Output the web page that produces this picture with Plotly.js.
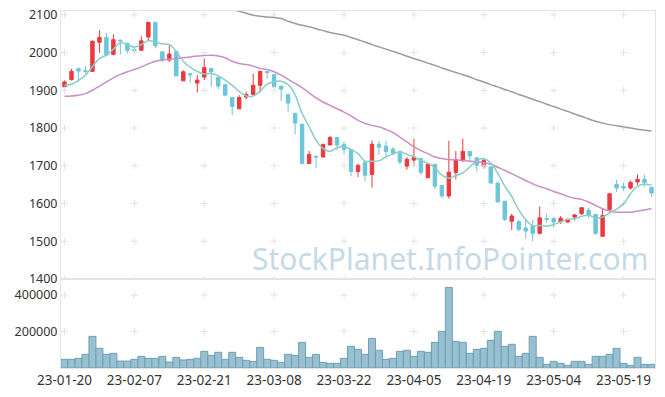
<!DOCTYPE html>
<html>
<head>
<meta charset="utf-8">
<script src="https://cdn.plot.ly/plotly-3.0.1.min.js"></script>
<style>html,body{margin:0;padding:0;background:#fff;}#chart{width:665px;height:397px;}</style>
</head>
<body>
<div id="chart"></div>
<script>
const dates = [
"23-01-20","23-01-25","23-01-26","23-01-27","23-01-30","23-01-31","23-02-01","23-02-02","23-02-03","23-02-06",
"23-02-07","23-02-08","23-02-09","23-02-10","23-02-13","23-02-14","23-02-15","23-02-16","23-02-17","23-02-20",
"23-02-21","23-02-22","23-02-23","23-02-24","23-02-27","23-02-28","23-03-02","23-03-03","23-03-06","23-03-07",
"23-03-08","23-03-09","23-03-10","23-03-13","23-03-14","23-03-15","23-03-16","23-03-17","23-03-20","23-03-21",
"23-03-22","23-03-23","23-03-24","23-03-27","23-03-28","23-03-29","23-03-30","23-03-31","23-04-03","23-04-04",
"23-04-05","23-04-06","23-04-07","23-04-10","23-04-11","23-04-12","23-04-13","23-04-14","23-04-17","23-04-18",
"23-04-19","23-04-20","23-04-21","23-04-24","23-04-25","23-04-26","23-04-27","23-04-28","23-05-02","23-05-03",
"23-05-04","23-05-08","23-05-09","23-05-10","23-05-11","23-05-12","23-05-15","23-05-16","23-05-17","23-05-18",
"23-05-19","23-05-22","23-05-23","23-05-24","23-05-25"];

const openP = [1909,1928,1957,1952,1950,2027,2040,1995,2033,2024,
2008,2006,2041,2080,2002,1980,2003,1925,1944,1919,
1935,1958,1934,1915,1881,1851,1882,1889,1913,1950,
1942,1911,1889,1839,1810,1706,1725,1723,1755,1775,
1757,1743,1685,1709,1677,1757,1752,1744,1734,1699,
1715,1719,1668,1704,1648,1620,1682,1714,1738,1721,
1699,1697,1654,1606,1553,1552,1535,1539,1521,1560,
1560,1552,1551,1564,1573,1582,1571,1513,1584,1651,
1645,1641,1657,1664,1643];
const highP = [1926,1957,1960,1964,2032,2059,2052,2048,2033,2026,
2014,2043,2080,2080,2002,2019,2003,1953,1944,1940,
1984,1958,1937,1915,1881,1887,1896,1944,1950,1950,
1942,1911,1889,1839,1810,1739,1725,1757,1779,1775,
1764,1743,1706,1709,1767,1766,1766,1750,1741,1723,
1772,1719,1704,1704,1648,1766,1739,1772,1738,1721,
1719,1697,1654,1606,1573,1557,1558,1557,1592,1573,
1564,1567,1560,1570,1590,1589,1571,1586,1626,1663,
1655,1661,1677,1676,1643];
const lowP = [1904,1926,1922,1944,1950,1999,1990,1993,1995,1997,
1997,2004,2033,2011,1975,1975,1938,1925,1920,1894,
1927,1909,1903,1884,1834,1850,1876,1887,1894,1931,
1909,1872,1842,1783,1706,1706,1695,1723,1755,1741,
1730,1672,1670,1659,1642,1728,1725,1728,1704,1690,
1699,1675,1668,1637,1615,1613,1664,1710,1710,1685,
1692,1654,1604,1553,1530,1526,1507,1500,1518,1549,
1536,1546,1549,1555,1570,1561,1517,1513,1573,1630,
1633,1637,1648,1645,1617];
const closeP = [1922,1950,1951,1950,2030,2040,1993,2034,2031,2006,
2005,2031,2080,2018,1981,1996,1938,1949,1941,1927,
1960,1949,1911,1887,1857,1881,1889,1913,1950,1947,
1909,1903,1866,1813,1706,1730,1723,1757,1775,1755,
1743,1685,1701,1675,1757,1749,1738,1734,1710,1717,
1723,1683,1704,1646,1620,1683,1717,1738,1726,1701,
1714,1654,1604,1558,1567,1531,1527,1521,1562,1558,
1551,1561,1558,1570,1589,1570,1521,1568,1626,1641,
1641,1656,1664,1655,1628];

const volume = [47500,47500,53000,75000,173600,108000,75000,80500,38000,38000,
47500,64000,53000,53000,64000,33000,58400,44000,47500,53000,
91300,69400,86000,47500,86000,58400,42000,36500,113000,47500,
42000,31000,75000,69400,140600,58400,75000,31000,25600,25600,
53000,119000,102000,75000,162500,97000,47500,53000,91300,97000,
64000,91300,86000,140600,201000,442000,146000,140600,80500,102000,
108000,151600,201000,119000,130000,64000,80500,173600,58400,20000,
36500,25600,14600,36500,36500,20000,64000,64000,75000,108000,
25600,14600,58400,20000,20000];

const ma5 = [1913,1916,1926,1940,1963,1984,1993,2009,2026,2021,
2014,2021,2031,2028,2023,2021,2003,1977,1961,1950,
1943,1945,1938,1927,1913,1897,1885,1885,1898,1916,
1922,1924,1915,1888,1839,1804,1768,1746,1738,1748,
1751,1743,1732,1712,1712,1713,1724,1731,1738,1730,
1724,1713,1707,1695,1675,1667,1674,1681,1697,1713,
1719,1707,1680,1646,1619,1583,1557,1541,1542,1540,
1544,1551,1558,1560,1566,1569,1562,1564,1575,1585,
1599,1626,1646,1651,1649];

const ma20 = [1884,1885,1887,1891,1900,1911,1922,1933,1942,1949,
1955,1962,1970,1977,1980,1982,1984,1986,1988,1991,
1992,1993,1991,1986,1977,1971,1968,1964,1958,1955,
1949,1940,1929,1918,1907,1893,1880,1869,1860,1851,
1842,1832,1820,1812,1807,1803,1796,1788,1776,1763,
1750,1740,1732,1723,1719,1716,1716,1714,1712,1711,
1708,1704,1696,1688,1679,1670,1661,1652,1645,1639,
1632,1626,1619,1614,1611,1604,1595,1586,1580,1577,
1577,1577,1580,1583,1587];

const ma60 = [null,null,null,null,null,null,null,null,null,null,
null,null,null,null,null,null,null,null,null,null,
null,null,2124,2119,2114,2109,2104,2099,2096,2094,
2093,2090,2083,2077,2072,2068,2063,2058,2053,2049,
2046,2040,2034,2028,2021,2015,2009,2003,1997,1990,
1984,1978,1972,1966,1959,1953,1947,1941,1935,1928,
1922,1915,1909,1902,1896,1889,1883,1876,1870,1863,
1857,1850,1844,1837,1831,1824,1818,1813,1809,1806,
1803,1800,1797,1794,1792];

const priceTicks = [1400,1500,1600,1700,1800,1900,2000,2100];
const volumeTicks = [200000,400000];
const xTickIdx = [0,10,20,30,40,50,60,70,80];
const xTicks = xTickIdx.map(i => dates[i]);

const UP = '#ea3a40', DOWN = '#6cc5d9';

// grid "+" marks at tick intersections
const gx = [], gy = [], vx = [], vy = [];
xTicks.forEach(d => { priceTicks.forEach(p => { gx.push(d); gy.push(p); });
                      volumeTicks.forEach(v => { vx.push(d); vy.push(v); }); });

const cross = {symbol:'cross-thin', size:5, line:{color:'#e2e2e2', width:1}};
const traces = [
  {type:'scatter', mode:'markers', x:gx, y:gy, xaxis:'x', yaxis:'y', marker:cross, hoverinfo:'skip', showlegend:false},
  {type:'scatter', mode:'markers', x:vx, y:vy, xaxis:'x2', yaxis:'y2', marker:cross, hoverinfo:'skip', showlegend:false},
  {type:'scatter', mode:'lines', x:dates, y:ma60, xaxis:'x', yaxis:'y',
   line:{color:'#9b9b9b', width:1.5, shape:'spline'}, connectgaps:false, showlegend:false},
  {type:'scatter', mode:'lines', x:dates, y:ma20, xaxis:'x', yaxis:'y',
   line:{color:'#cc8cc6', width:1.5, shape:'spline'}, showlegend:false},
  {type:'scatter', mode:'lines', x:dates, y:ma5, xaxis:'x', yaxis:'y',
   line:{color:'#88cec4', width:1.5, shape:'spline'}, showlegend:false},
  {type:'candlestick', x:dates, open:openP, high:highP, low:lowP, close:closeP,
   xaxis:'x', yaxis:'y', whiskerwidth:0,
   increasing:{line:{color:UP, width:1}, fillcolor:UP},
   decreasing:{line:{color:DOWN, width:1}, fillcolor:DOWN}, showlegend:false},
  {type:'bar', x:dates, y:volume, xaxis:'x2', yaxis:'y2',
   marker:{color:'#98c0d0', line:{color:'#6e9fb3', width:1}}, showlegend:false}
];

const fam = 'Noto Sans, DejaVu Sans, sans-serif';
const yfont = {family:fam, size:12.5, color:'#333'};
const layout = {
  width:665, height:397,
  margin:{l:61, r:10, t:11, b:29},
  paper_bgcolor:'#fff', plot_bgcolor:'#fff',
  font: {family:fam, size:13, color:'#333'},
  showlegend:false,
  hovermode:false,
  bargap:0,
  xaxis:{type:'category', categoryorder:'array', categoryarray:dates, range:[-0.5, dates.length-0.5],
         anchor:'y', showticklabels:false, showgrid:false, zeroline:false,
         showline:true, mirror:true, linecolor:'#e4e4e4', linewidth:1, ticks:'',
         rangeslider:{visible:false}},
  xaxis2:{type:'category', categoryorder:'array', categoryarray:dates, range:[-0.5, dates.length-0.5],
          anchor:'y2', matches:'x', tickmode:'array', tickvals:xTicks, ticktext:xTicks,
          showgrid:false, zeroline:false, showline:true, mirror:true, linecolor:'#e4e4e4', linewidth:1,
          ticks:'', tickfont:{family:fam, size:13.5, color:'#333'}, tickangle:0},
  yaxis:{domain:[0.2493,1], range:[1400,2110], tickmode:'array', tickvals:priceTicks,
         showgrid:false, zeroline:false, showline:true, mirror:true, linecolor:'#e4e4e4', linewidth:1,
         ticks:'', tickfont:yfont, tickformat:'d'},
  yaxis2:{domain:[0,0.2493], range:[0,488000], tickmode:'array', tickvals:volumeTicks,
          showgrid:false, zeroline:false, showline:true, mirror:true, linecolor:'#e4e4e4', linewidth:1,
          ticks:'', tickfont:yfont, tickformat:'d'},
  annotations:[{text:'StockPlanet.InfoPointer.com', xref:'paper', yref:'paper',
     x:0.656, y:0.306, xanchor:'center', yanchor:'middle', showarrow:false,
     font:{family:fam, size:30, color:'#c6dae6'}}]
};

Plotly.newPlot('chart', traces, layout, {staticPlot:true, displayModeBar:false});
</script>
</body>
</html>
